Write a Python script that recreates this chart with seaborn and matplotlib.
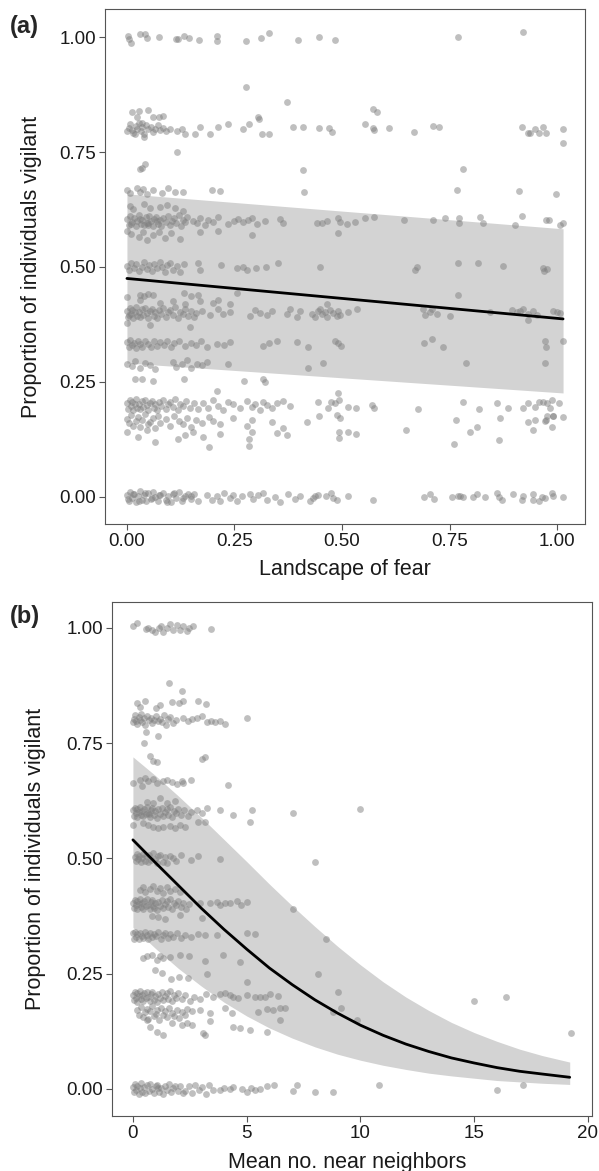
import matplotlib
matplotlib.use("Agg")
import matplotlib.pyplot as plt
import seaborn as sns

# ---------------- panel (a): landscape of fear ----------------
a0_x = [0.000, 0.004, 0.008, 0.012, 0.016, 0.020, 0.025, 0.030, 0.035, 0.040, 0.045, 0.050, 0.055, 0.060, 0.066,
        0.072, 0.078, 0.084, 0.090, 0.096, 0.102, 0.108, 0.114, 0.120, 0.127, 0.134, 0.141, 0.148, 0.156, 0.165,
        0.002, 0.014, 0.027, 0.043, 0.058, 0.075, 0.093, 0.110, 0.131, 0.150,
        0.185, 0.197, 0.209, 0.216, 0.226, 0.240, 0.247, 0.255, 0.267, 0.286, 0.294, 0.305, 0.317, 0.325, 0.344,
        0.356, 0.375, 0.391,
        0.402, 0.426, 0.432, 0.437, 0.445, 0.463, 0.474, 0.480, 0.489, 0.515, 0.571, 0.691, 0.705, 0.714, 0.755,
        0.770, 0.774, 0.782, 0.804, 0.813, 0.833, 0.861, 0.865, 0.873, 0.898, 0.918, 0.922, 0.943, 0.945, 0.959,
        0.965, 0.972, 0.988, 0.990, 1.015]
a0_y = [0.004, -0.008, 0.010, -0.002, 0.007, -0.011, 0.001, 0.012, -0.006, 0.003, -0.009, 0.008, -0.004, 0.011, -0.001,
        -0.010, 0.005, 0.009, -0.007, 0.002, -0.012, 0.006, -0.003, 0.010, -0.008, 0.001, 0.007, -0.005, 0.006, -0.010,
        -0.004, 0.006, -0.009, 0.009, -0.002, 0.004, -0.011, 0.008, -0.003, 0.002,
        0.005, -0.006, 0.002, -0.009, 0.008, -0.003, 0.004, -0.010, 0.001, 0.007, -0.005, 0.003, 0.009, -0.007, 0.000,
        -0.012, 0.006, -0.004,
        0.001, -0.009, -0.003, 0.002, 0.004, 0.002, 0.009, -0.003, -0.006, 0.001, -0.006, -0.001, 0.006, -0.005, -0.001,
        0.001, 0.001, -0.001, -0.001, 0.007, -0.001, 0.009, -0.001, -0.006, 0.007, -0.006, 0.001, 0.007, -0.006, -0.008,
        -0.001, -0.003, 0.009, 0.001, -0.001]

a14_x = [0.000, 0.026, 0.046, 0.065, 0.119, 0.135, 0.154, 0.177, 0.216, 0.284, 0.290, 0.348, 0.371, 0.191, 0.284,
         0.493, 0.493, 0.515, 0.532, 0.649, 0.798, 0.813, 0.864, 0.761, 0.945, 0.988]
a14_y = [0.140, 0.130, 0.145, 0.120, 0.125, 0.135, 0.140, 0.130, 0.137, 0.126, 0.142, 0.138, 0.135, 0.109, 0.110,
         0.142, 0.128, 0.140, 0.137, 0.146, 0.140, 0.151, 0.124, 0.116, 0.146, 0.152]

a17_x = [0.000, 0.005, 0.010, 0.015, 0.020, 0.025, 0.030, 0.036, 0.042, 0.048, 0.054, 0.060, 0.066, 0.072, 0.078,
         0.090, 0.100, 0.110, 0.120, 0.130, 0.140, 0.150, 0.160, 0.175, 0.190,
         0.201, 0.216, 0.247, 0.278, 0.290, 0.337, 0.364]
a17_y = [0.170, 0.160, 0.178, 0.155, 0.166, 0.174, 0.152, 0.168, 0.180, 0.158, 0.163, 0.172, 0.150, 0.176, 0.161,
         0.169, 0.155, 0.175, 0.164, 0.158, 0.171, 0.153, 0.167, 0.160, 0.173,
         0.165, 0.158, 0.172, 0.155, 0.168, 0.162, 0.150]

a20_x = [0.000, 0.003, 0.006, 0.009, 0.012, 0.015, 0.018, 0.021, 0.024, 0.027, 0.030, 0.034, 0.038, 0.042, 0.046,
         0.050, 0.054, 0.058, 0.062, 0.066, 0.070, 0.075, 0.080, 0.085, 0.090, 0.095, 0.100, 0.106, 0.112, 0.118,
         0.124, 0.130, 0.138, 0.146, 0.155, 0.165,
         0.177, 0.189, 0.201, 0.212, 0.224, 0.236, 0.247, 0.263, 0.278, 0.290, 0.298, 0.309, 0.317, 0.325, 0.337,
         0.348, 0.364, 0.379,
         0.445, 0.468, 0.474, 0.484, 0.488, 0.491, 0.493, 0.495, 0.515, 0.533, 0.569, 0.574, 0.677, 0.782, 0.819,
         0.861, 0.867, 0.885, 0.920, 0.933, 0.949, 0.959, 0.967, 0.976, 0.984, 0.989, 0.991, 1.005, 1.015, 0.447,
         0.418, 0.765, 0.933, 0.949, 0.974, 0.976, 0.991, 0.972]
a20_y = [0.204, 0.192, 0.210, 0.198, 0.207, 0.189, 0.201, 0.212, 0.194, 0.203, 0.191, 0.208, 0.196, 0.211, 0.199,
         0.190, 0.205, 0.209, 0.193, 0.202, 0.188, 0.206, 0.197, 0.210, 0.192, 0.201, 0.207, 0.195, 0.212, 0.190,
         0.203, 0.198, 0.208, 0.194, 0.204, 0.191,
         0.205, 0.194, 0.210, 0.198, 0.190, 0.206, 0.201, 0.193, 0.208, 0.196, 0.203, 0.190, 0.207, 0.199, 0.194,
         0.205, 0.209, 0.197,
         0.206, 0.193, 0.207, 0.204, 0.178, 0.225, 0.211, 0.171, 0.196, 0.194, 0.200, 0.193, 0.191, 0.207, 0.191,
         0.205, 0.171, 0.193, 0.194, 0.204, 0.196, 0.207, 0.207, 0.204, 0.193, 0.211, 0.175, 0.205, 0.173, 0.176,
         0.162, 0.167, 0.162, 0.167, 0.167, 0.176, 0.176, 0.166]

a29_x = [0.019, 0.035, 0.060, 0.133, 0.273, 0.317, 0.321, 0.209,
         0.000, 0.012, 0.019, 0.030, 0.042, 0.053, 0.065, 0.107, 0.115, 0.127, 0.139, 0.150, 0.162, 0.174, 0.185,
         0.236, 0.422, 0.457, 0.788, 0.972]
a29_y = [0.256, 0.256, 0.252, 0.256, 0.252, 0.256, 0.250, 0.231,
         0.290, 0.285, 0.296, 0.280, 0.292, 0.287, 0.278, 0.294, 0.283, 0.289, 0.297, 0.281, 0.290, 0.286, 0.293,
         0.288, 0.281, 0.291, 0.291, 0.292]

a33_x = [0.000, 0.004, 0.008, 0.012, 0.016, 0.020, 0.025, 0.030, 0.036, 0.042, 0.048, 0.055, 0.062, 0.070, 0.078,
         0.086, 0.094, 0.102, 0.110, 0.122, 0.135, 0.148, 0.160, 0.172, 0.185, 0.210,
         0.225, 0.240, 0.317, 0.330, 0.348, 0.395,
         0.422, 0.484, 0.491, 0.497, 0.691, 0.709, 0.734, 0.972, 0.974, 1.015,
         0.000, 0.053, 0.147]
a33_y = [0.337, 0.326, 0.341, 0.330, 0.335, 0.324, 0.339, 0.332, 0.327, 0.340, 0.333, 0.325, 0.338, 0.329, 0.336,
         0.331, 0.340, 0.326, 0.334, 0.339, 0.328, 0.335, 0.330, 0.338, 0.327, 0.333,
         0.330, 0.336, 0.328, 0.334, 0.339, 0.336,
         0.327, 0.338, 0.334, 0.328, 0.334, 0.343, 0.327, 0.338, 0.327, 0.338,
         0.378, 0.374, 0.369]

a40_x = [0.000, 0.003, 0.006, 0.009, 0.012, 0.015, 0.018, 0.021, 0.024, 0.027, 0.030, 0.034, 0.038, 0.042, 0.046,
         0.050, 0.054, 0.058, 0.062, 0.066, 0.070, 0.075, 0.080, 0.085, 0.090, 0.095, 0.100, 0.106, 0.112, 0.118,
         0.124, 0.130, 0.136, 0.142, 0.148, 0.155, 0.160, 0.004,
         0.174, 0.193, 0.212, 0.224, 0.240, 0.286, 0.298, 0.309, 0.325, 0.337, 0.371, 0.379, 0.395,
         0.030, 0.077, 0.108, 0.135, 0.170, 0.201, 0.212, 0.240, 0.000, 0.030, 0.040, 0.050, 0.060, 0.133, 0.149,
         0.166, 0.256, 0.770,
         0.402, 0.430, 0.437, 0.445, 0.449, 0.453, 0.460, 0.464, 0.472, 0.480, 0.488, 0.491, 0.495, 0.515, 0.534,
         0.464, 0.689, 0.693, 0.705, 0.709, 0.720, 0.751, 0.844, 0.895, 0.906, 0.914, 0.922, 0.933, 0.945, 0.953,
         0.991, 0.999, 1.007, 0.933]
a40_y = [0.404, 0.392, 0.410, 0.398, 0.407, 0.389, 0.401, 0.412, 0.394, 0.403, 0.391, 0.408, 0.396, 0.411, 0.399,
         0.390, 0.405, 0.409, 0.393, 0.402, 0.388, 0.406, 0.397, 0.410, 0.392, 0.401, 0.407, 0.395, 0.412, 0.390,
         0.403, 0.398, 0.408, 0.394, 0.404, 0.391, 0.400, 0.396,
         0.404, 0.395, 0.409, 0.398, 0.402, 0.393, 0.407, 0.400, 0.395, 0.405, 0.398, 0.409, 0.392,
         0.428, 0.422, 0.425, 0.419, 0.426, 0.421, 0.428, 0.420, 0.435, 0.440, 0.437, 0.442, 0.438, 0.443, 0.437,
         0.440, 0.443, 0.438,
         0.405, 0.398, 0.392, 0.404, 0.409, 0.398, 0.403, 0.392, 0.406, 0.399, 0.393, 0.405, 0.396, 0.401, 0.408,
         0.420, 0.408, 0.395, 0.401, 0.409, 0.398, 0.394, 0.403, 0.407, 0.401, 0.404, 0.409, 0.398, 0.405, 0.395,
         0.404, 0.401, 0.399, 0.385]

a50_x = [0.000, 0.005, 0.010, 0.016, 0.022, 0.028, 0.034, 0.040, 0.046, 0.052, 0.058, 0.064, 0.070, 0.076, 0.082,
         0.088, 0.094, 0.100, 0.108, 0.116, 0.124, 0.132,
         0.166, 0.170, 0.218, 0.255, 0.271, 0.278, 0.300, 0.323, 0.352,
         0.449, 0.670, 0.674, 0.770, 0.816, 0.874, 0.967, 0.969, 0.976]
a50_y = [0.503, 0.494, 0.509, 0.498, 0.506, 0.491, 0.501, 0.510, 0.495, 0.504, 0.492, 0.507, 0.497, 0.511, 0.499,
         0.490, 0.505, 0.508, 0.493, 0.502, 0.489, 0.506,
         0.508, 0.493, 0.504, 0.497, 0.501, 0.493, 0.497, 0.501, 0.508,
         0.501, 0.493, 0.501, 0.508, 0.509, 0.502, 0.497, 0.492, 0.495]

a60_x = [0.000, 0.010, 0.028, 0.037, 0.047, 0.060, 0.074, 0.088, 0.102, 0.123, 0.170, 0.212, 0.290, 0.491,
         0.000, 0.004, 0.008, 0.012, 0.016, 0.020, 0.024, 0.028, 0.032, 0.036, 0.040, 0.044, 0.048, 0.052, 0.056,
         0.060, 0.064, 0.068, 0.072, 0.076, 0.080, 0.085, 0.090, 0.095, 0.100, 0.105, 0.110, 0.115, 0.120, 0.125,
         0.130, 0.135, 0.140, 0.010, 0.030, 0.050, 0.070, 0.046,
         0.154, 0.162, 0.170, 0.181, 0.189, 0.201, 0.211, 0.236, 0.248, 0.259, 0.271, 0.282, 0.290, 0.302, 0.321,
         0.356, 0.362,
         0.441, 0.453, 0.464, 0.491, 0.495, 0.511, 0.530, 0.553, 0.574, 0.644, 0.712, 0.740, 0.771, 0.772, 0.821,
         0.827, 0.902, 0.919, 0.974, 0.982, 1.007, 1.013,
         0.007, 0.014, 0.040, 0.053, 0.077, 0.093, 0.112, 0.130]
a60_y = [0.578, 0.572, 0.565, 0.575, 0.559, 0.570, 0.577, 0.563, 0.574, 0.560, 0.576, 0.578, 0.570, 0.573,
         0.604, 0.592, 0.610, 0.598, 0.607, 0.589, 0.601, 0.612, 0.594, 0.603, 0.591, 0.608, 0.596, 0.611, 0.599,
         0.590, 0.605, 0.609, 0.593, 0.602, 0.588, 0.606, 0.597, 0.610, 0.592, 0.601, 0.607, 0.595, 0.612, 0.590,
         0.603, 0.598, 0.608, 0.594, 0.604, 0.591, 0.600, 0.596,
         0.600, 0.595, 0.606, 0.592, 0.603, 0.598, 0.609, 0.594, 0.601, 0.605, 0.597, 0.602, 0.607, 0.593, 0.599,
         0.604, 0.596,
         0.595, 0.596, 0.600, 0.606, 0.598, 0.593, 0.598, 0.607, 0.609, 0.602, 0.602, 0.606, 0.606, 0.596, 0.609,
         0.596, 0.592, 0.611, 0.603, 0.602, 0.592, 0.596,
         0.632, 0.625, 0.638, 0.628, 0.630, 0.635, 0.628, 0.622]

a67_x = [0.000, 0.007, 0.023, 0.030, 0.037, 0.047, 0.060, 0.081, 0.095, 0.112, 0.130, 0.198, 0.216,
         0.412, 0.767, 0.912, 0.997,
         0.030, 0.035, 0.041, 0.410, 0.782, 0.116]
a67_y = [0.667, 0.661, 0.672, 0.664, 0.669, 0.658, 0.668, 0.660, 0.671, 0.663, 0.662, 0.668, 0.665,
         0.662, 0.667, 0.665, 0.659,
         0.712, 0.715, 0.724, 0.711, 0.713, 0.750]

a80_x = [0.000, 0.005, 0.008, 0.012, 0.015, 0.020, 0.024, 0.028, 0.032, 0.036, 0.040, 0.045, 0.050, 0.055, 0.060,
         0.066, 0.072, 0.078, 0.085, 0.090, 0.035, 0.018,
         0.100, 0.116, 0.128, 0.135, 0.158, 0.170, 0.193, 0.212, 0.235, 0.270, 0.284, 0.330, 0.386, 0.314, 0.040,
         0.409, 0.447, 0.470, 0.476, 0.553, 0.571, 0.574, 0.610, 0.667, 0.712, 0.726, 0.918, 0.933, 0.937, 0.949,
         0.957, 0.968, 0.974, 1.015, 1.015,
         0.012, 0.023, 0.028, 0.049, 0.060, 0.074, 0.084, 0.305, 0.307, 0.572, 0.581,
         0.277, 0.372]
a80_y = [0.795, 0.803, 0.810, 0.798, 0.792, 0.806, 0.800, 0.812, 0.796, 0.804, 0.790, 0.808, 0.799, 0.805, 0.793,
         0.801, 0.809, 0.797, 0.803, 0.795, 0.813, 0.789,
         0.800, 0.795, 0.800, 0.790, 0.790, 0.805, 0.790, 0.805, 0.810, 0.800, 0.810, 0.790, 0.805, 0.789, 0.783,
         0.804, 0.803, 0.803, 0.793, 0.810, 0.803, 0.798, 0.803, 0.793, 0.807, 0.804, 0.804, 0.791, 0.791, 0.801,
         0.792, 0.805, 0.792, 0.801, 0.769,
         0.837, 0.826, 0.839, 0.841, 0.826, 0.826, 0.828, 0.826, 0.822, 0.843, 0.837,
         0.891, 0.859]

a100_x = [0.002, 0.005, 0.010, 0.030, 0.042, 0.047, 0.074, 0.114, 0.118, 0.133, 0.144, 0.167, 0.209, 0.210,
          0.277, 0.312, 0.330, 0.398, 0.447, 0.484, 0.770, 0.921]
a100_y = [1.003, 0.996, 0.988, 1.006, 1.007, 0.999, 1.000, 0.995, 0.995, 1.003, 0.999, 0.993, 1.003, 0.992,
          0.992, 0.997, 1.008, 0.993, 1.000, 0.993, 1.000, 1.011]

# fitted line and 95% band, panel (a)
fear_line_x = [0.0, 1.014]
fear_fit = [0.475, 0.387]
fear_lo = [0.291, 0.226]
fear_hi = [0.659, 0.583]

# ---------------- panel (b): mean no. near neighbors ----------------
b0_x = [0.00, 0.05, 0.10, 0.15, 0.20, 0.25, 0.30, 0.36, 0.42, 0.48, 0.55, 0.62, 0.69, 0.76, 0.84, 0.92, 1.00, 1.08,
        1.16, 1.24, 1.32, 1.40, 1.49, 1.58, 1.67, 1.76, 1.86, 1.96, 2.06, 2.18, 2.30, 2.45, 2.60, 2.75, 2.90, 3.05,
        3.20, 3.35, 3.50, 1.10,
        3.83, 4.00, 4.27, 4.41, 4.78, 5.00, 5.18, 5.37, 5.58, 5.88, 6.20, 7.02, 7.20,
        10.8, 8.0, 8.8, 16.0, 17.15]
b0_y = [0.004, -0.008, 0.010, -0.002, 0.007, -0.011, 0.001, 0.012, -0.006, 0.003, -0.009, 0.008, -0.004, 0.011,
        -0.001, -0.010, 0.005, 0.009, -0.007, 0.002, -0.012, 0.006, -0.003, 0.010, -0.008, 0.001, 0.007, -0.005,
        0.006, -0.010, -0.004, 0.006, -0.009, 0.009, -0.002, 0.004, -0.011, 0.008, -0.003, 0.002,
        -0.002, 0.001, -0.001, 0.004, -0.001, -0.006, 0.001, -0.002, -0.001, 0.005, 0.009, -0.004, 0.009,
        0.009, -0.008, -0.008, -0.002, 0.009]

b12_x = [0.60, 0.75, 1.04, 1.33, 1.70, 2.14, 2.36, 2.58, 3.09, 3.17, 3.39, 4.41, 4.71, 5.15, 5.88, 6.46,
         0.20, 0.28, 0.36, 0.44, 0.52, 0.60, 0.68, 0.76, 0.84, 0.92, 1.00, 1.08, 1.16, 1.24, 1.32, 1.40, 1.50,
         1.60, 1.70, 1.80, 1.92, 2.04, 2.16, 2.28, 2.36,
         2.58, 2.95, 3.39, 4.05, 4.34, 5.51, 5.88, 6.17, 6.46, 6.68,
         8.8, 9.15, 9.85, 19.26]
b12_y = [0.150, 0.135, 0.124, 0.117, 0.143, 0.139, 0.143, 0.139, 0.121, 0.117, 0.146, 0.135, 0.132, 0.128, 0.124, 0.150,
         0.170, 0.160, 0.178, 0.155, 0.166, 0.174, 0.152, 0.168, 0.180, 0.158, 0.163, 0.172, 0.150, 0.176, 0.161,
         0.169, 0.155, 0.175, 0.164, 0.158, 0.171, 0.153, 0.167, 0.160, 0.173,
         0.168, 0.171, 0.164, 0.175, 0.164, 0.166, 0.173, 0.170, 0.175, 0.175,
         0.167, 0.176, 0.150, 0.120]

b20_x = [0.00, 0.04, 0.08, 0.12, 0.16, 0.20, 0.25, 0.30, 0.35, 0.40, 0.45, 0.50, 0.56, 0.62, 0.68, 0.74, 0.80, 0.86,
         0.92, 0.98, 1.05, 1.12, 1.19, 1.26, 1.33, 1.40, 1.48, 1.56, 1.64, 1.72, 1.80, 1.90, 2.00, 2.15, 2.30, 2.50,
         2.70, 2.95, 3.20, 3.50,
         3.83, 4.05, 4.27, 4.41, 4.60, 5.00, 5.37, 5.58, 5.80, 6.02, 6.39,
         9.0, 15.0, 16.4]
b20_y = [0.204, 0.192, 0.210, 0.198, 0.207, 0.189, 0.201, 0.212, 0.194, 0.203, 0.191, 0.208, 0.196, 0.211, 0.199,
         0.190, 0.205, 0.209, 0.193, 0.202, 0.188, 0.206, 0.197, 0.210, 0.192, 0.201, 0.207, 0.195, 0.212, 0.190,
         0.203, 0.198, 0.208, 0.194, 0.204, 0.191, 0.200, 0.195, 0.206, 0.199,
         0.206, 0.208, 0.204, 0.200, 0.197, 0.204, 0.199, 0.199, 0.200, 0.205, 0.202,
         0.210, 0.190, 0.200]

b28_x = [0.97, 1.26, 1.66, 2.02, 2.41, 3.27, 5.00,
         0.45, 0.60, 0.82, 1.04, 1.19, 1.33, 1.63, 2.07, 2.46, 3.17, 3.97, 4.71, 8.14]
b28_y = [0.257, 0.251, 0.239, 0.242, 0.240, 0.249, 0.231,
         0.283, 0.287, 0.291, 0.280, 0.289, 0.283, 0.286, 0.291, 0.289, 0.278, 0.291, 0.276, 0.250]

b33_x = [0.00, 0.05, 0.10, 0.15, 0.20, 0.26, 0.32, 0.38, 0.45, 0.52, 0.60, 0.68, 0.76, 0.85, 0.94, 1.03, 1.12, 1.22,
         1.32, 1.42, 1.53, 1.65, 1.78, 1.92, 2.10, 2.30, 2.55, 2.85,
         3.17, 3.68, 5.00, 5.37, 8.49,
         0.82, 1.11, 1.41, 2.07, 3.02]
b33_y = [0.337, 0.326, 0.341, 0.330, 0.335, 0.324, 0.339, 0.332, 0.327, 0.340, 0.333, 0.325, 0.338, 0.329, 0.336,
         0.331, 0.340, 0.326, 0.334, 0.339, 0.328, 0.335, 0.330, 0.338, 0.327, 0.333, 0.329, 0.336,
         0.334, 0.334, 0.339, 0.336, 0.325,
         0.375, 0.372, 0.368, 0.378, 0.370]

b40_x = [0.00, 0.04, 0.08, 0.12, 0.16, 0.20, 0.25, 0.30, 0.35, 0.40, 0.45, 0.50, 0.56, 0.62, 0.68, 0.74, 0.80, 0.86,
         0.92, 0.98, 1.05, 1.12, 1.19, 1.26, 1.33, 1.40, 1.48, 1.56, 1.64, 1.72, 1.80, 1.90, 2.00, 2.10, 2.20, 2.32,
         2.45, 0.90,
         2.95, 3.39, 3.68, 3.83, 4.05, 4.27, 4.56, 4.74, 5.00, 7.02,
         0.31, 0.45, 0.53, 0.75, 0.89, 1.04, 1.19, 1.33, 1.48, 1.63, 1.85, 2.07]
b40_y = [0.404, 0.392, 0.410, 0.398, 0.407, 0.389, 0.401, 0.412, 0.394, 0.403, 0.391, 0.408, 0.396, 0.411, 0.399,
         0.390, 0.405, 0.409, 0.393, 0.402, 0.388, 0.406, 0.397, 0.410, 0.392, 0.401, 0.407, 0.395, 0.412, 0.390,
         0.403, 0.398, 0.408, 0.394, 0.404, 0.391, 0.400, 0.396,
         0.403, 0.403, 0.406, 0.399, 0.403, 0.404, 0.408, 0.399, 0.406, 0.390,
         0.432, 0.438, 0.426, 0.434, 0.440, 0.428, 0.436, 0.424, 0.438, 0.430, 0.434, 0.427]

b50_x = [0.08, 0.12, 0.17, 0.22, 0.28, 0.34, 0.40, 0.46, 0.52, 0.58, 0.65, 0.72, 0.80, 0.88, 0.96, 1.04, 1.12, 1.20,
         1.30, 1.40, 1.50, 1.62, 1.75, 1.90, 2.10, 2.55,
         2.87, 3.83, 8.0]
b50_y = [0.503, 0.494, 0.509, 0.498, 0.506, 0.491, 0.501, 0.510, 0.495, 0.504, 0.492, 0.507, 0.497, 0.511, 0.499,
         0.490, 0.505, 0.508, 0.493, 0.502, 0.489, 0.506, 0.500, 0.495, 0.508, 0.497,
         0.504, 0.498, 0.492]

b60_x = [0.01, 0.45, 0.67, 0.89, 1.11, 1.33, 1.63, 1.85, 2.07, 2.29, 2.87, 3.17, 5.15,
         0.00, 0.04, 0.08, 0.12, 0.16, 0.20, 0.25, 0.30, 0.35, 0.40, 0.45, 0.50, 0.56, 0.62, 0.68, 0.74, 0.80, 0.86,
         0.92, 0.98, 1.05, 1.12, 1.19, 1.26, 1.33, 1.40, 1.48, 1.56, 1.64, 1.72, 1.80, 1.90, 2.00, 2.12, 2.25, 2.40,
         2.55, 0.70,
         2.80, 3.02, 3.24, 3.83, 4.41, 5.22, 7.02, 10.0,
         0.60, 0.89, 1.19, 1.48, 1.85]
b60_y = [0.573, 0.576, 0.573, 0.568, 0.566, 0.568, 0.571, 0.566, 0.573, 0.568, 0.578, 0.578, 0.579,
         0.604, 0.592, 0.610, 0.598, 0.607, 0.589, 0.601, 0.612, 0.594, 0.603, 0.591, 0.608, 0.596, 0.611, 0.599,
         0.590, 0.605, 0.609, 0.593, 0.602, 0.588, 0.606, 0.597, 0.610, 0.592, 0.601, 0.607, 0.595, 0.612, 0.590,
         0.603, 0.598, 0.608, 0.594, 0.604, 0.591, 0.600, 0.596,
         0.604, 0.598, 0.609, 0.604, 0.594, 0.605, 0.599, 0.607,
         0.623, 0.620, 0.631, 0.621, 0.625]

b67_x = [0.01, 0.31, 0.38, 0.53, 0.67, 0.89, 1.04, 1.33, 1.48, 1.70, 1.92, 2.14, 2.21, 2.54, 4.19,
         0.75, 0.89, 1.04, 3.02, 3.17, 0.56, 1.11, 0.50]
b67_y = [0.663, 0.670, 0.656, 0.674, 0.667, 0.671, 0.663, 0.667, 0.670, 0.665, 0.661, 0.667, 0.663, 0.670, 0.658,
         0.723, 0.712, 0.710, 0.715, 0.719, 0.774, 0.766, 0.750]

b80_x = [0.00, 0.05, 0.10, 0.15, 0.20, 0.25, 0.30, 0.36, 0.42, 0.48, 0.55, 0.62, 0.70, 0.78, 0.86, 0.94, 1.02, 1.10,
         1.18, 1.27, 1.36, 1.45, 1.55, 1.65, 1.75, 1.88,
         2.21, 2.43, 2.58, 2.80, 3.02, 3.24, 3.43, 3.61, 3.83, 4.05, 5.00,
         0.16, 0.31, 0.53, 1.00, 1.19, 1.70, 2.02, 2.19, 2.85, 3.20,
         1.58, 2.17]
b80_y = [0.795, 0.803, 0.810, 0.798, 0.792, 0.806, 0.800, 0.812, 0.796, 0.804, 0.790, 0.808, 0.799, 0.805, 0.793,
         0.801, 0.809, 0.797, 0.803, 0.795, 0.811, 0.789, 0.802, 0.807, 0.794, 0.800,
         0.804, 0.797, 0.802, 0.805, 0.808, 0.795, 0.797, 0.795, 0.798, 0.792, 0.804,
         0.837, 0.829, 0.842, 0.827, 0.833, 0.839, 0.837, 0.842, 0.841, 0.834,
         0.881, 0.864]

b100_x = [0.01, 0.19, 0.56, 0.67, 0.82, 0.97, 1.16, 1.23, 1.33, 1.48, 1.63, 1.77, 1.92, 2.07, 2.19, 2.36, 2.48,
          2.65, 3.42]
b100_y = [1.005, 1.010, 0.998, 1.000, 0.995, 0.990, 1.000, 1.005, 0.990, 1.000, 1.008, 0.995, 1.006, 0.995, 1.003,
          0.993, 1.000, 1.004, 0.998]

# fitted curve and 95% band, panel (b)
nbr_line_x = [0, 1, 2, 3, 4, 5, 6, 7, 8, 9, 10, 11, 12, 13, 14, 15, 16, 17, 18, 19.2]
nbr_fit = [0.540, 0.490, 0.441, 0.392, 0.346, 0.303, 0.262, 0.226, 0.193, 0.164, 0.138, 0.116, 0.097, 0.081,
           0.067, 0.056, 0.046, 0.038, 0.032, 0.025]
nbr_hi = [0.720, 0.679, 0.635, 0.589, 0.541, 0.493, 0.444, 0.397, 0.352, 0.309, 0.269, 0.232, 0.199, 0.170,
          0.144, 0.122, 0.103, 0.086, 0.072, 0.058]
nbr_lo = [0.350, 0.304, 0.261, 0.223, 0.188, 0.158, 0.132, 0.110, 0.091, 0.075, 0.062, 0.051, 0.042, 0.034,
          0.028, 0.023, 0.018, 0.015, 0.012, 0.0095]

fear_x = a0_x + a14_x + a17_x + a20_x + a29_x + a33_x + a40_x + a50_x + a60_x + a67_x + a80_x + a100_x
fear_y = a0_y + a14_y + a17_y + a20_y + a29_y + a33_y + a40_y + a50_y + a60_y + a67_y + a80_y + a100_y
nbr_x = b0_x + b12_x + b20_x + b28_x + b33_x + b40_x + b50_x + b60_x + b67_x + b80_x + b100_x
nbr_y = b0_y + b12_y + b20_y + b28_y + b33_y + b40_y + b50_y + b60_y + b67_y + b80_y + b100_y

# ---------------- drawing ----------------
sns.set_style("white")
plt.rcParams["font.family"] = ["Liberation Sans", "DejaVu Sans"]

fig = plt.figure(figsize=(5.99, 11.71), dpi=100)
ax_a = fig.add_axes([105 / 599, 1 - 524 / 1171, 480 / 599, 515 / 1171])
ax_b = fig.add_axes([112 / 599, 1 - 1116 / 1171, 480 / 599, 514 / 1171])

band_col = "#d3d3d3"
pt_col = "#808080"


def draw_panel(ax, px, py, lx, fit, lo, hi):
    ax.fill_between(lx, lo, hi, color=band_col, lw=0, zorder=1)
    sns.scatterplot(x=px, y=py, ax=ax, color=pt_col, alpha=0.5, s=24, linewidth=0, zorder=2)
    sns.lineplot(x=lx, y=fit, ax=ax, color="black", lw=2.0, zorder=3)
    for sp in ax.spines.values():
        sp.set_visible(True)
        sp.set_color("#555555")
        sp.set_linewidth(0.8)
    ax.tick_params(direction="out", length=4, width=0.8, color="#555555",
                   labelsize=13.5, labelcolor="#1a1a1a", pad=2.5,
                   left=True, bottom=True)
    ax.set_xlabel("")
    ax.set_ylabel("")


draw_panel(ax_a, fear_x, fear_y, fear_line_x, fear_fit, fear_lo, fear_hi)
ax_a.set_xlim(-0.051, 1.065)
ax_a.set_ylim(-0.059, 1.061)
ax_a.set_xticks([0, 0.25, 0.5, 0.75, 1.0])
ax_a.set_xticklabels(["0.00", "0.25", "0.50", "0.75", "1.00"])
ax_a.set_yticks([0, 0.25, 0.5, 0.75, 1.0])
ax_a.set_yticklabels(["0.00", "0.25", "0.50", "0.75", "1.00"])
ax_a.text(0.5, -0.089, "Landscape of fear", transform=ax_a.transAxes,
          ha="center", va="center", fontsize=15.5, color="#1a1a1a")
ax_a.text(-0.154, 0.5, "Proportion of individuals vigilant", transform=ax_a.transAxes,
          ha="center", va="center", rotation=90, fontsize=15.5, color="#1a1a1a")

draw_panel(ax_b, nbr_x, nbr_y, nbr_line_x, nbr_fit, nbr_lo, nbr_hi)
ax_b.set_xlim(-0.92, 20.18)
ax_b.set_ylim(-0.059, 1.056)
ax_b.set_xticks([0, 5, 10, 15, 20])
ax_b.set_yticks([0, 0.25, 0.5, 0.75, 1.0])
ax_b.set_yticklabels(["0.00", "0.25", "0.50", "0.75", "1.00"])
ax_b.text(0.49, -0.0895, "Mean no. near neighbors", transform=ax_b.transAxes,
          ha="center", va="center", fontsize=15.5, color="#1a1a1a")
ax_b.text(-0.16, 0.5, "Proportion of individuals vigilant", transform=ax_b.transAxes,
          ha="center", va="center", rotation=90, fontsize=15.5, color="#1a1a1a")

fig.text(10 / 599, 1 - 26 / 1171, "(a)", fontsize=17, fontweight="bold", ha="left", va="center")
fig.text(10 / 599, 1 - 617 / 1171, "(b)", fontsize=17, fontweight="bold", ha="left", va="center")

fig.savefig("out.png", dpi=100)
